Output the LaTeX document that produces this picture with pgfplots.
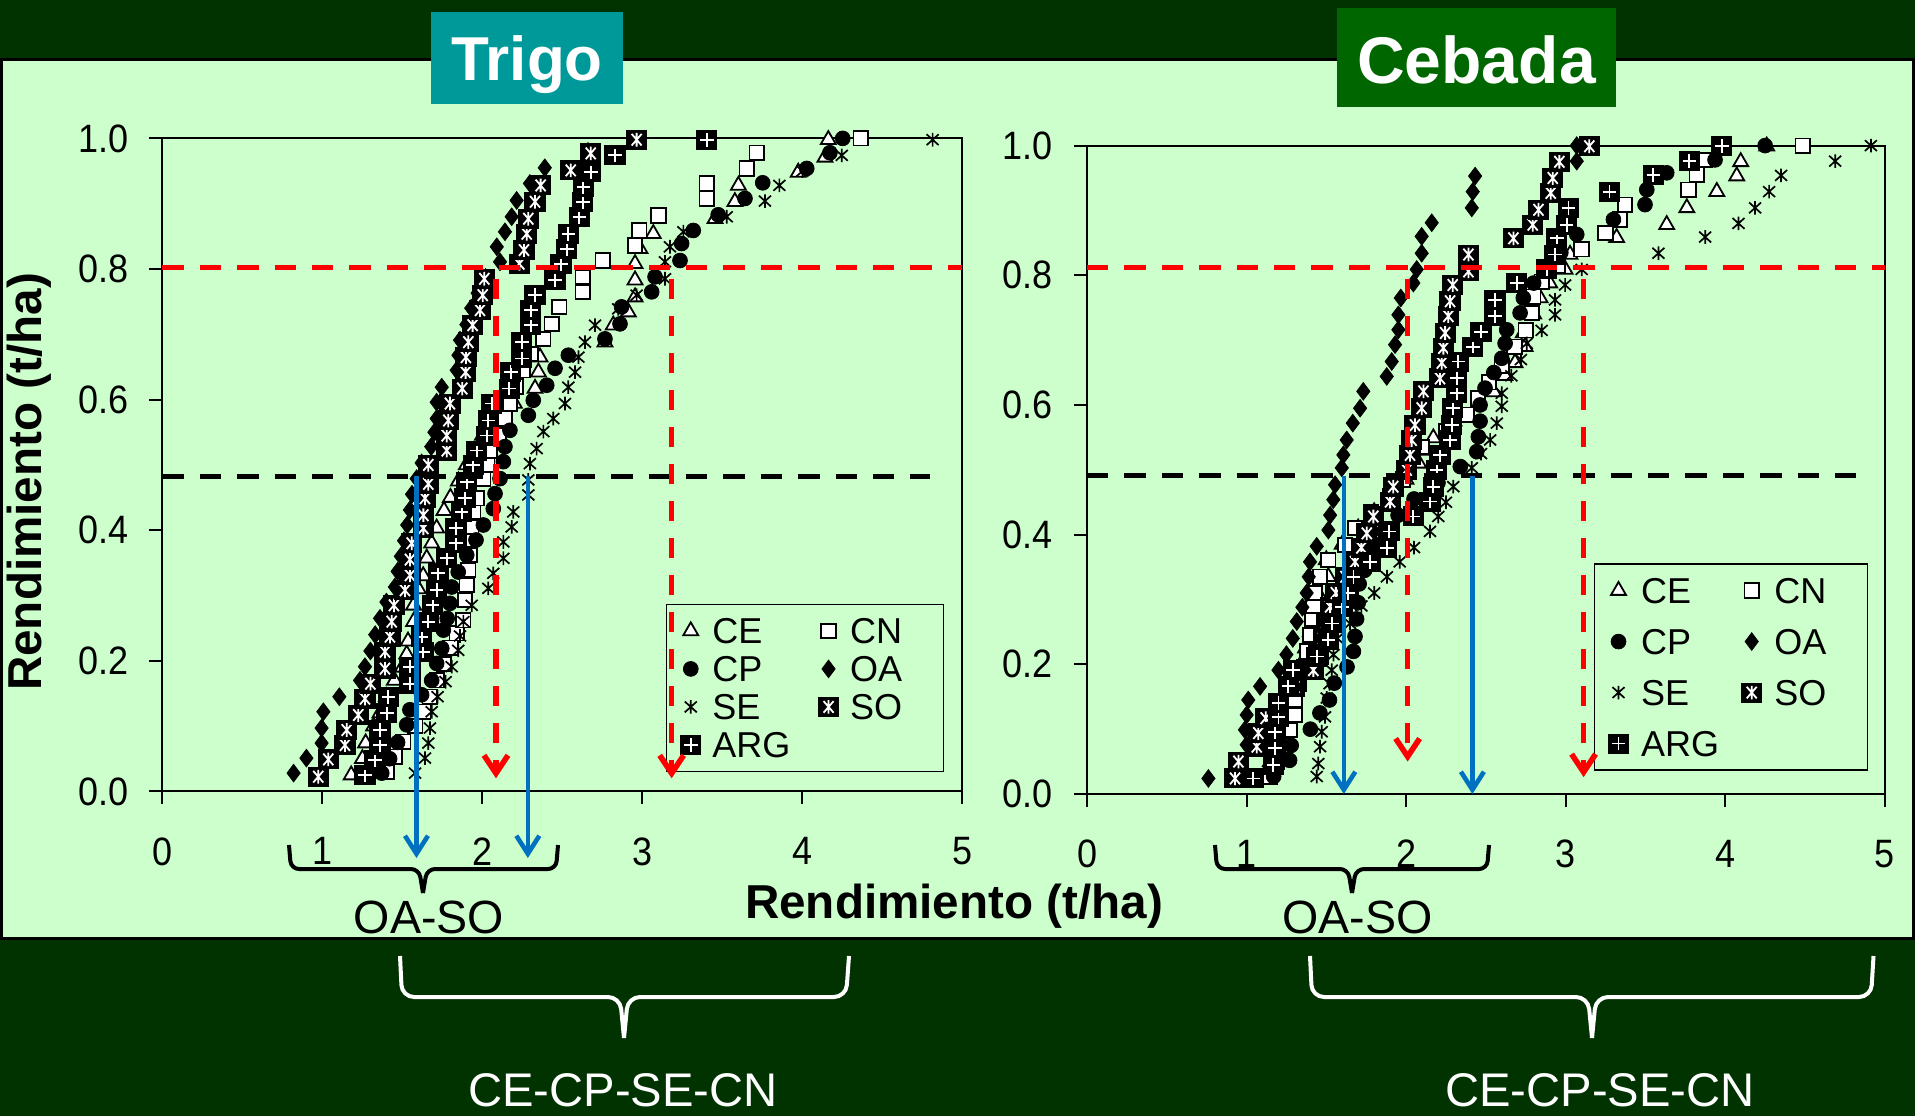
\documentclass[border=0pt]{standalone}
\usepackage{pgfplots}
\pgfplotsset{compat=1.18}
\usepackage{fontspec}
\setmainfont{Liberation Sans}
\usetikzlibrary{arrows.meta}
\definecolor{bgdark}{HTML}{003300}
\definecolor{panel}{HTML}{CCFFCC}
\definecolor{tealbox}{HTML}{009999}
\definecolor{cebbox}{HTML}{006600}
\definecolor{arrblue}{HTML}{0070C0}
\definecolor{dred}{HTML}{FF0000}

\pgfdeclareplotmark{SOm}{%
  \pgfsetfillcolor{black}%
  \pgfpathrectangle{\pgfqpoint{-5.3pt}{-5pt}}{\pgfqpoint{10.6pt}{10pt}}%
  \pgfusepathqfill
  \pgfsetstrokecolor{white}\pgfsetlinewidth{0.9pt}%
  \pgfpathmoveto{\pgfqpoint{0pt}{-3.4pt}}\pgfpathlineto{\pgfqpoint{0pt}{3.4pt}}%
  \pgfpathmoveto{\pgfqpoint{-2.5pt}{-2.9pt}}\pgfpathlineto{\pgfqpoint{2.5pt}{2.9pt}}%
  \pgfpathmoveto{\pgfqpoint{-2.5pt}{2.9pt}}\pgfpathlineto{\pgfqpoint{2.5pt}{-2.9pt}}%
  \pgfusepathqstroke
}
\pgfdeclareplotmark{ARGm}{%
  \pgfsetfillcolor{black}%
  \pgfpathrectangle{\pgfqpoint{-5.3pt}{-5pt}}{\pgfqpoint{10.6pt}{10pt}}%
  \pgfusepathqfill
  \pgfsetstrokecolor{white}\pgfsetlinewidth{0.9pt}%
  \pgfpathmoveto{\pgfqpoint{0pt}{-3.4pt}}\pgfpathlineto{\pgfqpoint{0pt}{3.4pt}}%
  \pgfpathmoveto{\pgfqpoint{-3.4pt}{0pt}}\pgfpathlineto{\pgfqpoint{3.4pt}{0pt}}%
  \pgfusepathqstroke
}
\pgfdeclareplotmark{SEm}{%
  \pgfsetstrokecolor{black}\pgfsetlinewidth{0.85pt}%
  \pgfpathmoveto{\pgfqpoint{0pt}{-3.4pt}}\pgfpathlineto{\pgfqpoint{0pt}{3.4pt}}%
  \pgfpathmoveto{\pgfqpoint{-3pt}{-2.7pt}}\pgfpathlineto{\pgfqpoint{3pt}{2.7pt}}%
  \pgfpathmoveto{\pgfqpoint{-3pt}{2.7pt}}\pgfpathlineto{\pgfqpoint{3pt}{-2.7pt}}%
  \pgfusepathqstroke
}

\pgfplotsset{
  myaxis/.style={
    scale only axis, xmin=0, xmax=5, ymin=0, ymax=1,
    xtick={0,1,2,3,4,5}, ytick={0,0.2,0.4,0.6,0.8,1},
    tick align=outside, xtick pos=bottom, ytick pos=left,
    major tick length=6.5pt, tick style={black, line width=1pt},
    axis line style={line width=1pt},
    clip=false,
    ticklabel style={font=\fontsize{18}{20}\selectfont, yscale=1.1},
    /pgf/number format/assume math mode=true,
    yticklabel style={xshift=-7pt, /pgf/number format/.cd, fixed, fixed zerofill, precision=1},
    xticklabel style={yshift=-11.5pt},
    legend columns=2, legend cell align=left,
    legend image code/.code={\draw[##1] plot coordinates {(0pt,0pt)};},
  },
  overaxis/.style={scale only axis, xmin=0, xmax=5, ymin=0, ymax=1, hide axis, clip=false},
  sCE/.style={only marks, mark=triangle*, mark size=4.3pt, mark options={fill=white, draw=black, line width=0.9pt}},
  sCN/.style={only marks, mark=square*, mark size=3.6pt, mark options={fill=white, draw=black, line width=0.9pt}},
  sCP/.style={only marks, mark=*, mark size=3.7pt, mark options={fill=black, draw=black, line width=0.4pt}},
  sOA/.style={only marks, mark=diamond*, mark size=4.4pt, mark options={fill=black, draw=black, line width=0.4pt}},
  sSE/.style={only marks, mark=SEm},
  sSO/.style={only marks, mark=SOm},
  sARG/.style={only marks, mark=ARGm},
  hred/.style={dred, line width=2.4pt, dash pattern=on 10.7pt off 8pt, forget plot},
  hblack/.style={black, line width=2.5pt, dash pattern=on 10.7pt off 8pt, forget plot},
  vred/.style={dred, line width=2.8pt, dash pattern=on 10pt off 8.5pt, -{Straight Barb[length=9pt,width=12pt]}, forget plot},
  vblue/.style={arrblue, line width=2.3pt, -{Straight Barb[length=9pt,width=11.5pt]}, forget plot},
}

\begin{document}
\begin{tikzpicture}
\path[use as bounding box] (0,0) rectangle (957.5pt,558pt);
\fill[bgdark] (0,0) rectangle (957.5pt,558pt);
\begin{scope}[x=0.5pt,y=-0.5pt,yshift=558pt]
  \fill[panel] (0,60) rectangle (1915,938.5);
  \draw[black,line width=1.5pt] (1.5,60) rectangle (1913.5,938.5);
  \fill[tealbox] (431,12) rectangle (623,104);
  \node[white, anchor=base, font=\fontsize{31}{33}\selectfont\bfseries, inner sep=0pt] at (527,81) {Trigo};
  \fill[cebbox] (1337,8) rectangle (1616,107.5);
  \node[white, anchor=base, font=\fontsize{33}{35}\selectfont\bfseries, inner sep=0pt] at (1476.5,84) {Cebada};
  % axis labels
  \node[rotate=90, font=\fontsize{23.8}{26}\selectfont\bfseries, inner sep=0pt] at (29,482) {Rendimiento (t/ha)};
  \node[anchor=base, font=\fontsize{23.8}{26}\selectfont\bfseries, inner sep=0pt] at (954,918) {Rendimiento (t/ha)};
  % braces
  \draw[black, line width=2pt, rounded corners=4pt] (289,845) -- (291,869) -- (419,869) -- (423,893);
  \draw[black, line width=2pt, rounded corners=4pt] (423,893) -- (427,869) -- (556,869) -- (558,845);
  \node[anchor=base, font=\fontsize{23.3}{25}\selectfont, inner sep=0pt] at (429,933) {OA-SO};
  \draw[black, line width=2pt, rounded corners=4pt] (1215,845) -- (1217,869) -- (1348,869) -- (1352,893);
  \draw[black, line width=2pt, rounded corners=4pt] (1352,893) -- (1356,869) -- (1487,869) -- (1489,845);
  \node[anchor=base, font=\fontsize{23.3}{25}\selectfont, inner sep=0pt] at (1357.5,933) {OA-SO};
  \draw[white, line width=2pt, rounded corners=6pt] (400,956) -- (402,997) -- (620,997) -- (624,1038);
  \draw[white, line width=2pt, rounded corners=6pt] (624,1038) -- (628,997) -- (846,997) -- (849,956);
  \node[white, anchor=base, font=\fontsize{23.6}{25}\selectfont, inner sep=0pt] at (623,1106) {CE-CP-SE-CN};
  \draw[white, line width=2pt, rounded corners=6pt] (1310,956) -- (1312,997) -- (1588,997) -- (1592,1038);
  \draw[white, line width=2pt, rounded corners=6pt] (1592,1038) -- (1596,997) -- (1871,997) -- (1873.5,956);
  \node[white, anchor=base, font=\fontsize{23.6}{25}\selectfont, inner sep=0pt] at (1600,1106) {CE-CP-SE-CN};
\end{scope}

% ---------------- Trigo ----------------
\begin{axis}[myaxis, at={(81.2pt,162.3pt)}, anchor=south west, width=400pt, height=326.5pt,
  legend style={at={(axis cs:3.148,0.0297)}, anchor=south west, draw=black, line width=0.7pt, fill=panel,
    inner sep=6.7pt, font=\fontsize{18}{20}\selectfont, row sep=6pt,
    nodes={text height=13pt, text depth=0pt, inner xsep=2pt, inner ysep=0pt, text width=38pt},
    /tikz/column 1/.style={column sep=3.5pt}, /tikz/column 2/.style={column sep=12.8pt},
    /tikz/column 3/.style={column sep=3.5pt}}]
\addplot[sCE] coordinates {(1.18,0.025)(1.25,0.05)(1.27,0.074)(1.32,0.1)(1.36,0.12)(1.40,0.145)(1.45,0.17)(1.50,0.19)(1.527,0.21)(1.535,0.23)(1.57,0.26)(1.57,0.285)(1.60,0.31)(1.63,0.33)(1.652,0.357)(1.683,0.38)(1.714,0.403)(1.76,0.43)(1.80,0.45)(1.85,0.475)(1.90,0.50)(1.95,0.52)(2.00,0.545)(2.10,0.57)(2.20,0.594)(2.329,0.617)(2.35,0.642)(2.36,0.665)(2.766,0.688)(2.818,0.714)(2.912,0.734)(2.954,0.757)(2.954,0.783)(2.954,0.808)(2.985,0.831)(3.068,0.854)(3.454,0.877)(3.578,0.903)(3.60,0.928)(3.974,0.948)(4.141,0.971)(4.162,0.998)};
\addlegendentry{CE}
\addplot[sCN] coordinates {(1.40,0.03)(1.453,0.053)(1.506,0.076)(1.58,0.1)(1.631,0.122)(1.67,0.145)(1.714,0.17)(1.76,0.195)(1.80,0.22)(1.839,0.242)(1.881,0.262)(1.891,0.293)(1.902,0.316)(1.912,0.339)(1.922,0.362)(1.922,0.385)(1.93,0.405)(1.943,0.428)(1.964,0.449)(2.006,0.479)(2.03,0.50)(2.048,0.522)(2.10,0.545)(2.14,0.571)(2.172,0.594)(2.21,0.62)(2.25,0.645)(2.30,0.67)(2.38,0.693)(2.433,0.716)(2.481,0.742)(2.627,0.765)(2.627,0.788)(2.752,0.813)(2.954,0.836)(2.98,0.859)(3.10,0.882)(3.402,0.908)(3.402,0.931)(3.652,0.954)(3.714,0.978)(4.364,1.0)};
\addlegendentry{CN}
\addplot[sCP] coordinates {(1.371,0.028)(1.42,0.05)(1.47,0.075)(1.527,0.102)(1.547,0.125)(1.62,0.148)(1.683,0.17)(1.714,0.196)(1.746,0.219)(1.756,0.247)(1.78,0.265)(1.797,0.288)(1.808,0.313)(1.849,0.336)(1.902,0.362)(1.96,0.385)(2.006,0.408)(2.068,0.433)(2.079,0.456)(2.11,0.479)(2.131,0.505)(2.141,0.528)(2.172,0.553)(2.287,0.576)(2.318,0.599)(2.402,0.622)(2.454,0.648)(2.537,0.668)(2.766,0.693)(2.86,0.716)(2.87,0.742)(3.058,0.765)(3.079,0.788)(3.235,0.813)(3.245,0.839)(3.318,0.859)(3.474,0.883)(3.641,0.908)(3.752,0.932)(4.027,0.954)(4.172,0.978)(4.252,1.0)};
\addlegendentry{CP}
\addplot[sOA] coordinates {(0.82,0.028)(0.90,0.051)(0.995,0.074)(0.995,0.097)(1.006,0.122)(1.106,0.145)(1.235,0.17)(1.266,0.191)(1.30,0.215)(1.33,0.24)(1.36,0.265)(1.40,0.29)(1.453,0.313)(1.47,0.337)(1.49,0.36)(1.51,0.384)(1.53,0.408)(1.547,0.431)(1.56,0.455)(1.589,0.479)(1.62,0.503)(1.68,0.528)(1.70,0.55)(1.714,0.571)(1.714,0.596)(1.746,0.619)(1.839,0.645)(1.85,0.668)(1.86,0.691)(1.90,0.715)(1.93,0.74)(1.97,0.763)(2.02,0.787)(2.11,0.811)(2.09,0.834)(2.141,0.857)(2.183,0.88)(2.214,0.905)(2.297,0.931)(2.39,0.955)(2.66,0.98)};
\addlegendentry{OA}
\addplot[sSE] coordinates {(1.579,0.028)(1.641,0.051)(1.662,0.074)(1.672,0.097)(1.683,0.122)(1.72,0.145)(1.77,0.168)(1.808,0.191)(1.849,0.216)(1.86,0.238)(1.881,0.26)(1.933,0.285)(2.037,0.311)(2.068,0.334)(2.131,0.357)(2.131,0.382)(2.183,0.405)(2.193,0.428)(2.287,0.454)(2.287,0.477)(2.297,0.502)(2.339,0.525)(2.381,0.551)(2.443,0.571)(2.516,0.594)(2.537,0.619)(2.579,0.642)(2.60,0.665)(2.641,0.688)(2.704,0.714)(2.849,0.739)(2.964,0.76)(3.141,0.785)(3.141,0.811)(3.172,0.834)(3.256,0.857)(3.527,0.88)(3.766,0.904)(3.856,0.928)(4.0,0.95)(4.246,0.974)(4.814,0.998)};
\addlegendentry{SE}
\addplot[sSO] coordinates {(0.974,0.0225)(1.037,0.049)(1.141,0.071)(1.152,0.094)(1.224,0.117)(1.266,0.142)(1.30,0.165)(1.391,0.188)(1.391,0.214)(1.422,0.237)(1.433,0.26)(1.447,0.285)(1.516,0.308)(1.547,0.331)(1.547,0.355)(1.558,0.38)(1.631,0.403)(1.631,0.423)(1.641,0.449)(1.662,0.471)(1.662,0.50)(1.777,0.522)(1.777,0.545)(1.787,0.568)(1.797,0.594)(1.874,0.617)(1.895,0.642)(1.897,0.665)(1.912,0.688)(1.939,0.714)(1.985,0.737)(2.002,0.76)(2.012,0.785)(2.231,0.808)(2.26,0.829)(2.277,0.854)(2.287,0.877)(2.329,0.903)(2.364,0.928)(2.552,0.951)(2.677,0.977)(2.964,0.998)};
\addlegendentry{SO}
\addplot[sARG] coordinates {(1.266,0.025)(1.329,0.048)(1.36,0.071)(1.36,0.094)(1.402,0.12)(1.412,0.145)(1.547,0.165)(1.547,0.191)(1.631,0.214)(1.62,0.237)(1.662,0.26)(1.689,0.285)(1.714,0.308)(1.724,0.334)(1.777,0.357)(1.835,0.38)(1.835,0.403)(1.87,0.428)(1.891,0.449)(1.902,0.474)(1.943,0.50)(1.964,0.522)(2.027,0.545)(2.037,0.568)(2.058,0.594)(2.168,0.617)(2.177,0.642)(2.246,0.663)(2.246,0.688)(2.302,0.714)(2.302,0.737)(2.329,0.76)(2.454,0.783)(2.491,0.808)(2.527,0.831)(2.537,0.854)(2.606,0.88)(2.627,0.903)(2.631,0.925)(2.677,0.948)(2.829,0.974)(3.402,0.998)};
\addlegendentry{ARG}
\end{axis}
\begin{axis}[overaxis, at={(81.2pt,162.3pt)}, anchor=south west, width=400pt, height=326.5pt]
\addplot[hred] coordinates {(0,0.802)(5,0.802)};
\addplot[hblack] coordinates {(0,0.483)(4.8,0.483)};
\addplot[vred] coordinates {(2.085,0.785)(2.085,0.02)};
\addplot[vred] coordinates {(3.183,0.785)(3.183,0.02)};
\addplot[vblue] coordinates {(1.588,0.483)(1.588,-0.102)};
\addplot[vblue] coordinates {(2.284,0.483)(2.284,-0.102)};
\end{axis}

% ---------------- Cebada ----------------
\begin{axis}[myaxis, at={(543.5pt,161pt)}, anchor=south west, width=398.8pt, height=324.2pt,
  legend style={at={(axis cs:3.177,0.036)}, anchor=south west, draw=black, line width=0.7pt, fill=panel,
    inner sep=6.7pt, font=\fontsize{18}{20}\selectfont, row sep=12.5pt,
    nodes={text height=13pt, text depth=0pt, inner xsep=2pt, inner ysep=0pt, text width=38pt},
    /tikz/column 1/.style={column sep=4pt}, /tikz/column 2/.style={column sep=10pt},
    /tikz/column 3/.style={column sep=4pt}}]
\addplot[sCE] coordinates {(1.10,0.025)(1.15,0.05)(1.18,0.075)(1.22,0.1)(1.25,0.125)(1.28,0.15)(1.31,0.175)(1.34,0.2)(1.37,0.225)(1.40,0.25)(1.43,0.275)(1.47,0.30)(1.513,0.335)(1.50,0.361)(1.60,0.385)(1.70,0.41)(1.80,0.435)(1.90,0.46)(2.00,0.485)(2.08,0.51)(2.13,0.53)(2.171,0.549)(2.30,0.575)(2.45,0.6)(2.55,0.62)(2.62,0.645)(2.683,0.665)(2.746,0.69)(2.735,0.711)(2.80,0.74)(2.84,0.765)(2.90,0.788)(2.997,0.809)(3.028,0.832)(3.32,0.858)(3.634,0.878)(3.76,0.904)(3.948,0.929)(4.073,0.953)(4.098,0.975)(4.261,0.999)};
\addlegendentry{CE}
\addplot[sCN] coordinates {(1.147,0.027)(1.19,0.05)(1.24,0.075)(1.273,0.099)(1.304,0.122)(1.304,0.145)(1.33,0.17)(1.36,0.195)(1.38,0.22)(1.40,0.245)(1.41,0.27)(1.42,0.29)(1.43,0.31)(1.46,0.335)(1.513,0.361)(1.618,0.384)(1.68,0.41)(1.78,0.435)(1.90,0.46)(1.98,0.485)(2.02,0.51)(2.10,0.535)(2.25,0.56)(2.38,0.585)(2.45,0.61)(2.52,0.635)(2.60,0.66)(2.68,0.69)(2.75,0.715)(2.788,0.742)(2.798,0.767)(2.85,0.79)(2.95,0.815)(3.10,0.84)(3.25,0.865)(3.34,0.886)(3.373,0.909)(3.77,0.932)(3.822,0.955)(3.875,0.978)(4.487,1.0)};
\addlegendentry{CN}
\addplot[sCP] coordinates {(1.17,0.027)(1.27,0.052)(1.28,0.075)(1.40,0.10)(1.46,0.125)(1.52,0.145)(1.55,0.171)(1.63,0.196)(1.67,0.22)(1.68,0.243)(1.69,0.27)(1.70,0.295)(1.706,0.324)(1.74,0.345)(1.78,0.365)(1.81,0.385)(1.86,0.405)(1.95,0.43)(2.05,0.455)(2.20,0.48)(2.34,0.505)(2.443,0.528)(2.453,0.551)(2.464,0.575)(2.464,0.60)(2.495,0.626)(2.55,0.65)(2.60,0.672)(2.621,0.695)(2.631,0.716)(2.715,0.742)(2.735,0.765)(2.80,0.788)(2.88,0.81)(2.97,0.835)(3.07,0.863)(3.30,0.886)(3.498,0.909)(3.509,0.932)(3.634,0.958)(3.937,0.978)(4.251,1.0)};
\addlegendentry{CP}
\addplot[sOA] coordinates {(0.761,0.024)(0.95,0.05)(1.001,0.076)(0.99,0.099)(1.001,0.122)(1.011,0.145)(1.085,0.166)(1.20,0.191)(1.25,0.215)(1.29,0.24)(1.315,0.266)(1.35,0.288)(1.377,0.31)(1.39,0.335)(1.398,0.358)(1.44,0.382)(1.513,0.407)(1.524,0.43)(1.544,0.454)(1.555,0.477)(1.597,0.503)(1.607,0.523)(1.628,0.546)(1.666,0.572)(1.712,0.595)(1.732,0.621)(1.879,0.644)(1.91,0.667)(1.931,0.693)(1.952,0.716)(1.952,0.739)(1.967,0.765)(2.046,0.788)(2.067,0.809)(2.098,0.834)(2.098,0.86)(2.161,0.881)(2.412,0.904)(2.418,0.929)(2.433,0.953)(3.07,0.976)(3.07,1.0)};
\addlegendentry{OA}
\addplot[sSE] coordinates {(1.44,0.027)(1.45,0.047)(1.461,0.073)(1.471,0.096)(1.492,0.119)(1.503,0.148)(1.52,0.17)(1.534,0.191)(1.545,0.215)(1.57,0.24)(1.649,0.263)(1.72,0.29)(1.80,0.31)(1.88,0.335)(1.96,0.358)(2.05,0.38)(2.15,0.405)(2.202,0.428)(2.25,0.45)(2.296,0.474)(2.412,0.503)(2.47,0.525)(2.527,0.546)(2.569,0.572)(2.60,0.598)(2.60,0.618)(2.66,0.645)(2.72,0.67)(2.757,0.695)(2.85,0.715)(2.934,0.739)(2.934,0.762)(2.997,0.785)(3.101,0.809)(3.582,0.834)(3.875,0.859)(4.084,0.88)(4.188,0.904)(4.276,0.929)(4.351,0.954)(4.69,0.976)(4.914,1.0)};
\addlegendentry{SE}
\addplot[sSO] coordinates {(0.928,0.024)(0.949,0.05)(1.064,0.073)(1.074,0.094)(1.12,0.117)(1.20,0.14)(1.30,0.165)(1.419,0.191)(1.45,0.215)(1.48,0.24)(1.50,0.265)(1.524,0.289)(1.56,0.31)(1.62,0.335)(1.68,0.358)(1.72,0.38)(1.754,0.402)(1.795,0.428)(1.90,0.451)(1.92,0.474)(2.004,0.50)(2.025,0.523)(2.035,0.546)(2.056,0.569)(2.098,0.595)(2.109,0.621)(2.213,0.641)(2.224,0.665)(2.234,0.688)(2.245,0.711)(2.265,0.737)(2.276,0.76)(2.293,0.785)(2.391,0.806)(2.391,0.832)(2.673,0.857)(2.794,0.878)(2.83,0.901)(2.907,0.927)(2.92,0.95)(2.961,0.975)(3.149,0.999)};
\addlegendentry{SO}
\addplot[sARG] coordinates {(1.043,0.024)(1.168,0.045)(1.179,0.071)(1.179,0.096)(1.20,0.119)(1.20,0.14)(1.262,0.166)(1.293,0.191)(1.44,0.212)(1.513,0.238)(1.534,0.263)(1.60,0.288)(1.638,0.31)(1.67,0.335)(1.774,0.358)(1.879,0.379)(1.895,0.405)(2.046,0.428)(2.15,0.451)(2.171,0.474)(2.192,0.50)(2.213,0.523)(2.276,0.546)(2.287,0.569)(2.293,0.595)(2.318,0.618)(2.318,0.641)(2.328,0.667)(2.418,0.69)(2.47,0.713)(2.558,0.737)(2.558,0.762)(2.694,0.788)(2.882,0.809)(2.934,0.832)(2.945,0.858)(3.007,0.878)(3.018,0.904)(3.275,0.929)(3.55,0.955)(3.776,0.976)(3.979,0.999)};
\addlegendentry{ARG}
\end{axis}
\begin{axis}[overaxis, at={(543.5pt,161pt)}, anchor=south west, width=398.8pt, height=324.2pt]
\addplot[hred] coordinates {(0,0.812)(5,0.812)};
\addplot[hblack] coordinates {(0,0.491)(4.82,0.491)};
\addplot[vred] coordinates {(2.01,0.795)(2.01,0.05)};
\addplot[vred] coordinates {(3.113,0.795)(3.113,0.026)};
\addplot[vblue] coordinates {(1.61,0.491)(1.61,0)};
\addplot[vblue] coordinates {(2.416,0.491)(2.416,0)};
\end{axis}
\end{tikzpicture}
\end{document}
